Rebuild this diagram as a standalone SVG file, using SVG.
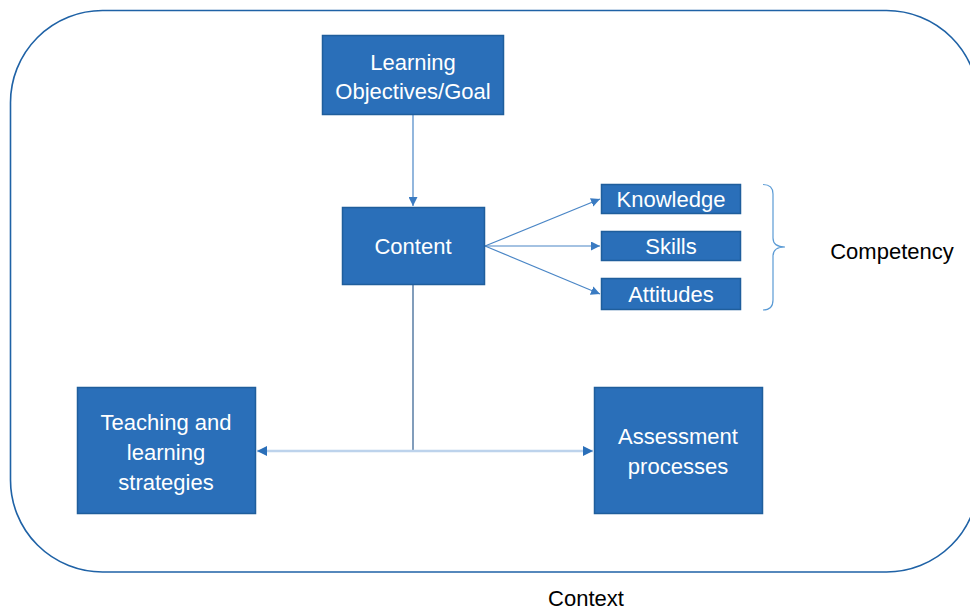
<svg xmlns="http://www.w3.org/2000/svg" width="970" height="613" viewBox="0 0 970 613">
<style>
.box{fill:#2A6FB9;stroke:#1F5E9C;stroke-width:1.5}
.t{font-family:"Liberation Sans",Arial,sans-serif;font-size:22px;fill:#ffffff;text-anchor:middle}
.k{font-family:"Liberation Sans",Arial,sans-serif;font-size:22px;fill:#000000;text-anchor:middle}
.c{fill:none;stroke:#4A86C6;stroke-width:1.2}
</style>
<defs>
<marker id="ah" viewBox="0 0 10 10" refX="10" refY="5" markerWidth="9" markerHeight="9" markerUnits="userSpaceOnUse" orient="auto">
<path d="M0,0 L10,5 L0,10 z" fill="#3A7BC2"/>
</marker>
<marker id="ah2" viewBox="0 0 10 10" refX="10" refY="5" markerWidth="10" markerHeight="10" markerUnits="userSpaceOnUse" orient="auto-start-reverse">
<path d="M0,0 L10,5 L0,10 z" fill="#2A6FB9"/>
</marker>
</defs>
<rect x="0" y="0" width="970" height="613" fill="#ffffff"/>
<rect id="context-frame" x="10.5" y="10.5" width="968" height="561.5" rx="92" ry="92" fill="none" stroke="#1F62A6" stroke-width="1.6"/>
<g id="connectors">
<path class="c" d="M413,115 L413,206" marker-end="url(#ah)"/>
<path class="c" d="M485,246 L600,199" marker-end="url(#ah)"/>
<path class="c" d="M485,246 L600,246" marker-end="url(#ah)"/>
<path class="c" d="M485,246 L600,294" marker-end="url(#ah)"/>
<line x1="413" y1="285" x2="413" y2="451" stroke="#2E5C8E" stroke-width="1.2"/>
<path d="M257,451 L593,451" fill="none" stroke="#BDD3EC" stroke-width="2.5" marker-start="url(#ah2)" marker-end="url(#ah2)"/>
<path d="M763,184.5 Q773,184.5 773,194 L773,238 Q773,247 785,247 Q773,247 773,256 L773,300 Q773,310 763,310" fill="none" stroke="#5B9BD5" stroke-width="1.2"/>
</g>
<g id="node-objectives">
<rect class="box" x="322.5" y="35.5" width="181" height="79"/>
<text class="t" x="413" y="70">Learning</text>
<text class="t" x="413" y="99">Objectives/Goal</text>
</g>
<g id="node-content">
<rect class="box" x="342.5" y="207.5" width="142" height="77"/>
<text class="t" x="413" y="254">Content</text>
</g>
<g id="node-knowledge">
<rect class="box" x="601.5" y="184.5" width="139" height="29"/>
<text class="t" x="671" y="207">Knowledge</text>
</g>
<g id="node-skills">
<rect class="box" x="601.5" y="231.5" width="139" height="29"/>
<text class="t" x="671" y="254">Skills</text>
</g>
<g id="node-attitudes">
<rect class="box" x="601.5" y="278.5" width="139" height="31"/>
<text class="t" x="671" y="302">Attitudes</text>
</g>
<g id="node-teaching">
<rect class="box" x="77.5" y="387.5" width="178" height="126"/>
<text class="t" x="166" y="430">Teaching and</text>
<text class="t" x="166" y="460">learning</text>
<text class="t" x="166" y="490">strategies</text>
</g>
<g id="node-assessment">
<rect class="box" x="594.5" y="387.5" width="168" height="126"/>
<text class="t" x="678" y="444">Assessment</text>
<text class="t" x="678" y="474">processes</text>
</g>
<g id="label-competency">
<text class="k" x="892" y="259">Competency</text>
</g>
<g id="label-context">
<text class="k" x="586" y="606">Context</text>
</g>
</svg>
